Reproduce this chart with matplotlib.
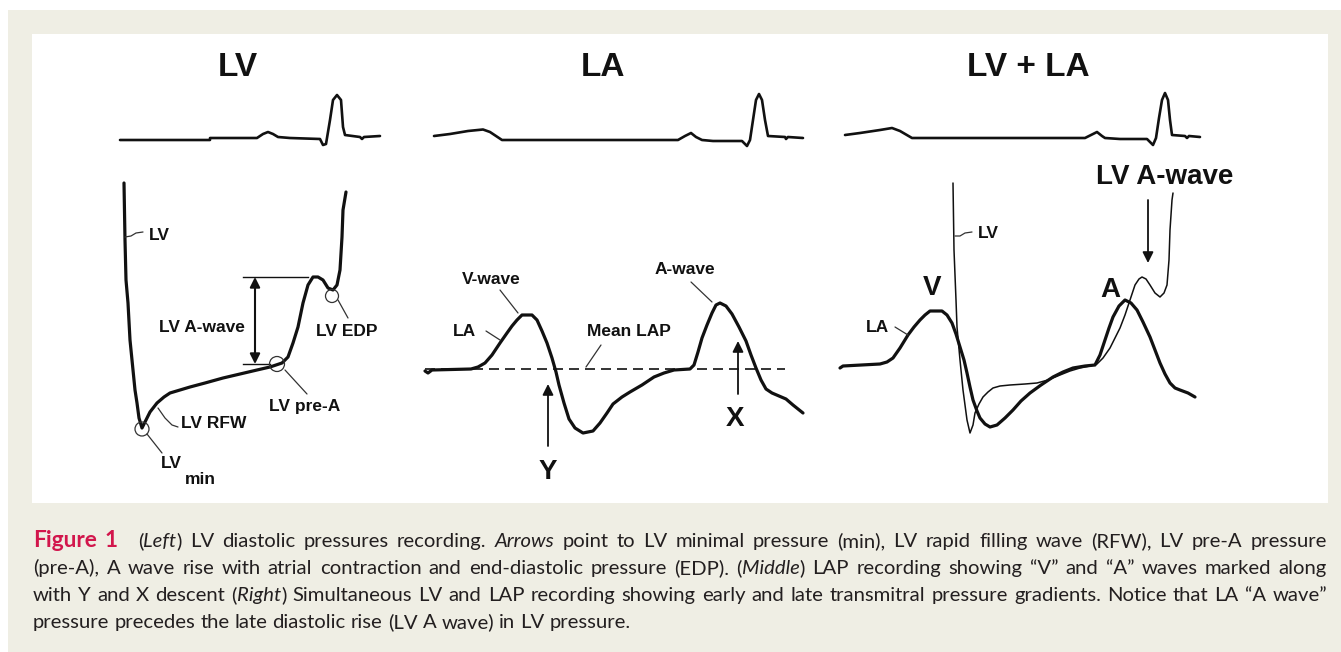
import matplotlib
matplotlib.use('Agg')
import matplotlib.pyplot as plt
from matplotlib import font_manager
from matplotlib.patches import Rectangle, Circle

# ---------------- data (traced in pixel coordinates of the figure) ----------------
ECG_LV_x = [120, 210, 210, 257, 263, 268, 273, 278, 290, 320, 323, 326, 330, 333, 337, 341, 343, 345, 360, 362, 364, 380]
ECG_LV_y = [140, 140, 138, 138, 134, 132, 134, 137, 138, 139, 145, 144, 120, 100, 95, 100, 127, 135, 137, 139, 137, 136]

ECG_LA_x = [434, 450, 468, 483, 490, 502, 678, 685, 691, 696, 702, 713, 742, 745, 747, 750, 753, 756, 759, 762, 765, 768, 785, 786, 788, 803]
ECG_LA_y = [136, 134, 131, 129.5, 132, 140, 140, 136, 133, 137, 140, 141, 141, 144, 146, 140, 120, 100, 94, 100, 120, 136, 137, 139, 137, 138]

ECG_BOTH_x = [845, 860, 880, 892, 900, 912, 1085, 1091, 1097, 1102, 1105, 1120, 1147, 1150, 1153, 1156, 1159, 1162, 1165, 1168, 1170, 1172, 1185, 1187, 1189, 1200]
ECG_BOTH_y = [135, 133, 130, 128, 131, 138, 138, 135, 132, 136, 138, 139, 139, 142, 145, 138, 118, 100, 93, 100, 120, 135, 136, 138, 136, 137]

LV_x = [124, 125, 126, 128, 130, 133, 135, 137, 139, 142, 146, 150, 157, 164, 170, 180, 190, 205, 223, 240, 257, 270, 282, 288, 293, 298, 303, 308, 313, 318, 323, 328, 333, 337, 340, 342, 343, 346]
LV_y = [183, 240, 280, 303, 340, 370, 390, 403, 418, 428, 420, 412, 403, 397, 393, 390, 387, 383, 378, 374, 370, 367, 363, 357, 343, 327, 303, 285, 277, 277, 280, 288, 290, 285, 270, 237, 210, 192]

LA_x = [425, 428, 432, 471, 478, 485, 492, 500, 507, 512, 517, 522, 532, 537, 542, 547, 552, 556, 559, 564, 569, 575, 583, 593, 600, 607, 613, 622, 630, 642, 654, 664, 674, 690, 694, 698, 702, 707, 712, 716, 720, 726, 732, 739, 746, 751, 756, 761, 766, 772, 779, 786, 793, 803]
LA_y = [371, 373, 370, 369, 367, 363, 355, 343, 333, 326, 320, 315, 315, 320, 331, 343, 358, 372, 385, 403, 419, 428, 433, 431, 423, 413, 404, 397, 392, 385, 377, 373, 370, 369, 365, 352, 338, 325, 313, 305, 303, 306, 314, 327, 341, 355, 368, 380, 389, 393, 396, 399, 405, 413]
MEAN_LAP_x = [425, 785]
MEAN_LAP_y = [369, 369]

LA2_x = [840, 843, 880, 887, 893, 900, 908, 914, 920, 925, 930, 942, 947, 952, 956, 960, 964, 967, 970, 973, 977, 980, 985, 990, 997, 1005, 1013, 1021, 1030, 1041, 1053, 1063, 1073, 1085, 1095, 1100, 1105, 1109, 1113, 1119, 1125, 1131, 1137, 1143, 1150, 1155, 1160, 1165, 1170, 1175, 1180, 1188, 1195]
LA2_y = [368, 366, 364, 362, 358, 348, 335, 327, 320, 315, 311, 311, 315, 323, 334, 347, 360, 373, 387, 400, 411, 418, 424, 427, 425, 418, 410, 401, 393, 385, 377, 372, 368, 366, 365, 355, 340, 328, 317, 306, 300, 303, 310, 322, 337, 350, 363, 374, 383, 388, 390, 393, 397]

LV2_x = [953, 954, 956, 957, 960, 963, 967, 970, 973, 975, 979, 983, 988, 993, 1000, 1010, 1025, 1037, 1048, 1060, 1070, 1080, 1090, 1097, 1103, 1110, 1115, 1120, 1125, 1130, 1135, 1139, 1142, 1146, 1150, 1155, 1160, 1164, 1167, 1169, 1170, 1172, 1173]
LV2_y = [183, 250, 300, 327, 360, 390, 420, 433, 425, 413, 404, 397, 392, 388, 386, 385, 384, 383, 380, 375, 371, 368, 366, 364, 358, 348, 338, 328, 315, 300, 285, 279, 277, 279, 285, 293, 297, 293, 285, 260, 230, 200, 193]

PANEL_TITLES = ["LV", "LA", "LV + LA"]
TITLE_X = [238, 603, 1028]
TITLE_Y = 67

CAPTION = [
    [("Figure 1", "fig"), (" (", "n"), ("Left", "i"), (") LV diastolic pressures recording. ", "n"), ("Arrows", "i"),
     (" point to LV minimal pressure (min), LV rapid filling wave (RFW), LV pre-A pressure", "n")],
    [("(pre-A), A wave rise with atrial contraction and end-diastolic pressure (EDP). (", "n"), ("Middle", "i"),
     (") LAP recording showing \u201cV\u201d and \u201cA\u201d waves marked along", "n")],
    [("with Y and X descent (", "n"), ("Right", "i"),
     (") Simultaneous LV and LAP recording showing early and late transmitral pressure gradients. Notice that LA \u201cA wave\u201d", "n")],
    [("pressure precedes the late diastolic rise (LV A wave) in LV pressure.", "n")],
]
CAPTION_BASELINES = [547, 574, 601, 628]

# ---------------- figure ----------------
W, H = 1341, 652
fig = plt.figure(figsize=(W / 100, H / 100), dpi=100)
fig.patch.set_facecolor('white')
ax = fig.add_axes([0, 0, 1, 1])
ax.set_xlim(0, W)
ax.set_ylim(H, 0)
ax.axis('off')

BEIGE = '#efeee4'
INK = '#111111'
ax.add_patch(Rectangle((8, 10), W - 8, H - 10, facecolor=BEIGE, edgecolor='none', zorder=0))
ax.add_patch(Rectangle((32, 34), 1328 - 32, 503 - 34, facecolor='white', edgecolor='none', zorder=1))

avail = {f.name for f in font_manager.fontManager.ttflist}
LBL = 'Liberation Sans' if 'Liberation Sans' in avail else 'DejaVu Sans'
TITLEF = 'Liberation Sans Narrow' if 'Liberation Sans Narrow' in avail else LBL
CAPF = 'Lato' if 'Lato' in avail else 'DejaVu Sans'

kw_line = dict(solid_joinstyle='round', solid_capstyle='round', zorder=3)
# ECG traces
for xs, ys in [(ECG_LV_x, ECG_LV_y), (ECG_LA_x, ECG_LA_y), (ECG_BOTH_x, ECG_BOTH_y)]:
    ax.plot(xs, ys, color=INK, lw=1.9, **kw_line)
# pressure traces
ax.plot(LV_x, LV_y, color=INK, lw=2.3, **kw_line)
ax.plot(LA_x, LA_y, color=INK, lw=2.3, **kw_line)
ax.plot(MEAN_LAP_x, MEAN_LAP_y, color=INK, lw=1.2, linestyle=(0, (6.0, 3.6)), zorder=3)
ax.plot(LA2_x, LA2_y, color=INK, lw=2.3, **kw_line)
ax.plot(LV2_x, LV2_y, color=INK, lw=1.1, **kw_line)

# titles
for t, x in zip(PANEL_TITLES, TITLE_X):
    ax.text(x, TITLE_Y, t, ha='center', va='center', fontsize=24, fontweight='bold', family=TITLEF, color=INK, zorder=4)

def lab(x, y, s, size=12.5, ha='center'):
    ax.text(x, y, s, ha=ha, va='center', fontsize=size, fontweight='bold', family=LBL, color=INK, zorder=4)

def lead(xs, ys, lw=0.9):
    ax.plot(xs, ys, color='#333333', lw=lw, zorder=3, solid_capstyle='round')

def arrow(tail, tip, style='-|>', ms=16, lw=1.3):
    ax.annotate('', xy=tip, xytext=tail,
                arrowprops=dict(arrowstyle=style, color=INK, lw=lw, mutation_scale=ms, shrinkA=0, shrinkB=0),
                zorder=4)

# ---- left panel annotations ----
lab(159, 235, 'LV')
lead([125, 131, 136, 143], [237, 236, 233, 232])
ax.plot([243, 308], [277, 277], color=INK, lw=1.0, zorder=3)
ax.plot([243, 270], [364, 364], color=INK, lw=1.0, zorder=3)
arrow((255, 364), (255, 277), style='<|-|>', ms=15, lw=1.5)
lab(202, 327, 'LV A-wave')
for cx, cy, r in [(142, 429, 7.0), (277, 364, 7.5), (332, 296, 6.5)]:
    ax.add_patch(Circle((cx, cy), r, fill=False, edgecolor='#333333', lw=0.9, zorder=4))
lab(347, 332, 'LV EDP')
lead([338, 348], [300, 318])
lab(305, 407, 'LV pre-A')
lead([285, 307], [370, 394])
lab(214, 423, 'LV RFW')
lead([158, 165, 172, 178], [408, 418, 425, 427])
lab(161, 464, 'LV', ha='left')
lab(185, 479, 'min', ha='left')
lead([147, 162], [434, 453])

# ---- middle panel annotations ----
lab(491, 279, 'V-wave')
lead([500, 518], [290, 313])
lab(464, 331, 'LA')
lead([486, 500], [331, 340])
lab(629, 331, 'Mean LAP')
lead([601, 586], [345, 367])
lab(685, 270, 'A-wave')
lead([691, 712], [282, 302])
arrow((548, 446), (548, 384))
lab(548, 472, 'Y', size=20)
arrow((738, 394), (738, 341))
lab(735, 419, 'X', size=20)

# ---- right panel annotations ----
lab(1165, 177, 'LV A-wave', size=20)
arrow((1148, 200), (1148, 263))
lab(988, 233, 'LV')
lead([955, 960, 965, 972], [236, 236, 233, 232])
lab(877, 327, 'LA')
lead([895, 908], [327, 335])
lab(932, 288, 'V', size=20)
lab(1110, 290, 'A', size=20)

# ---------------- caption (justified) ----------------
fig.canvas.draw()
renderer = fig.canvas.get_renderer()
CAP_COLOR = '#231f20'
RED = '#d2164c'

def style_kw(st, size):
    if st == 'fig':
        return dict(family=CAPF, fontweight='bold', color=RED, fontsize=size * 1.12)
    if st == 'i':
        return dict(family=CAPF, style='italic', color=CAP_COLOR, fontsize=size)
    return dict(family=CAPF, color=CAP_COLOR, fontsize=size)

def width(s, st, size):
    t = ax.text(0, 0, s, **style_kw(st, size))
    w = t.get_window_extent(renderer).width
    t.remove()
    return w

def tokenize(segs):
    words = [[]]
    for txt, st in segs:
        parts = txt.split(' ')
        for k, p in enumerate(parts):
            if k > 0:
                words.append([])
            if p:
                words[-1].append((p, st))
    return [w for w in words if w]

X0, X1 = 33, 1327
base = 13.0
lines_tok = [tokenize(l) for l in CAPTION]

def natural(size):
    sp = width('a a', 'n', size) - width('aa', 'n', size)
    out = []
    for toks in lines_tok:
        ws = [sum(width(p, st, size) for p, st in w) for w in toks]
        out.append((ws, sp))
    return out

nat = natural(base)
maxw = max(sum(ws) + sp * (len(ws) - 1) + 12 for ws, sp in nat)
size = base * (X1 - X0) / maxw * 0.99
nat = natural(size)

for li, (toks, (ws, sp), yb) in enumerate(zip(lines_tok, nat, CAPTION_BASELINES)):
    extra = [0.0] * len(toks)
    for k in range(len(toks) - 1):
        if toks[k][-1][1] == 'fig' and toks[k + 1][0][1] != 'fig':
            extra[k] = 12.0
    n_gaps = len(toks) - 1
    if li < len(lines_tok) - 1:
        gap = (X1 - X0 - sum(ws) - sum(extra)) / n_gaps
    else:
        gap = sp
    x = X0
    for k, w in enumerate(toks):
        px = x
        for p, st in w:
            ax.text(px, yb, p, ha='left', va='baseline', zorder=5, **style_kw(st, size))
            px += width(p, st, size)
        x += ws[k] + gap + extra[k]

fig.savefig('out.png', dpi=100, facecolor='white')
